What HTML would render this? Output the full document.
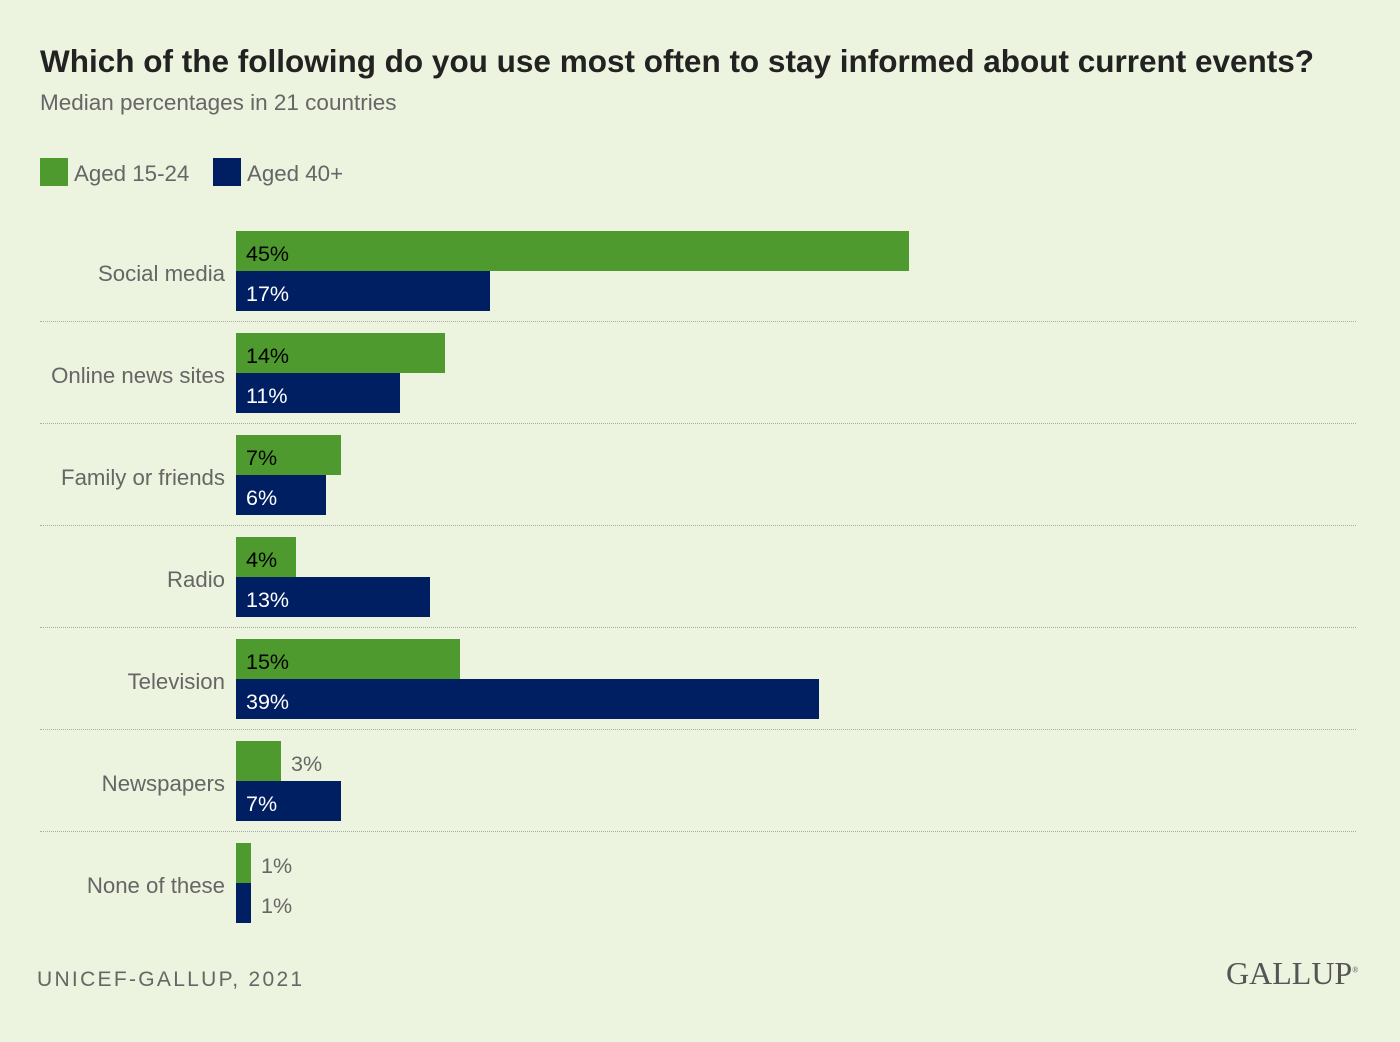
<!DOCTYPE html>
<html><head><meta charset="utf-8"><style>
body{margin:0;}
#c{position:relative;width:1400px;height:1042px;background:#ecf3de;font-family:"Liberation Sans",sans-serif;overflow:hidden}
.a{position:absolute;white-space:nowrap}
.t{left:40px;top:43px;font-size:31.5px;font-weight:bold;color:#222}
.s{left:40px;top:90px;font-size:22.5px;color:#666}
.lab{right:1175px;font-size:22.2px;color:#666;line-height:24px}
.bar{position:absolute;left:236px;height:40px}
.g{background:#4e9a2e}.b{background:#001f63}
.v{font-size:21.5px;line-height:40px;margin-top:3px}
.sep{position:absolute;left:40px;width:1316px;border-top:1.5px dotted #aaa;height:0}
</style></head><body><div id="c">
<div class="a t">Which of the following do you use most often to stay informed about current events?</div>
<div class="a s">Median percentages in 21 countries</div>
<div class="a" style="left:40px;top:158px;width:28px;height:28px;background:#4e9a2e"></div>
<div class="a" style="left:74px;top:161px;font-size:22.3px;color:#666">Aged 15-24</div>
<div class="a" style="left:213px;top:158px;width:28px;height:28px;background:#001f63"></div>
<div class="a" style="left:247px;top:161px;font-size:22.3px;color:#666">Aged 40+</div>
<div id="rows"></div>
<div class="a" style="left:37px;top:968px;font-size:21px;color:#666;letter-spacing:2.3px">UNICEF-GALLUP, 2021</div>
<div class="a" style="left:1226px;top:955px;font-family:'Liberation Serif',serif;font-size:32px;color:#555">GALLUP<sup style="font-size:8px">®</sup></div>
</div>
<script>
var d=[["Social media",45,17],["Online news sites",14,11],["Family or friends",7,6],["Radio",4,13],["Television",15,39],["Newspapers",3,7],["None of these",1,1]];
var h="",k=14.95;
d.forEach(function(r,i){
 var y=231+102*i;
 h+='<div class="a lab" style="top:'+(y+31)+'px">'+r[0]+'</div>';
 [[r[1],'g','#000'],[r[2],'b','#fff']].forEach(function(q,j){
  var w=Math.round(q[0]*k),yy=y+40*j;
  h+='<div class="bar '+q[1]+'" style="top:'+yy+'px;width:'+w+'px"></div>';
  if(w>45) h+='<div class="a v" style="left:246px;top:'+yy+'px;color:'+q[2]+'">'+q[0]+'%</div>';
  else h+='<div class="a v" style="left:'+(236+w+10)+'px;top:'+yy+'px;color:#666">'+q[0]+'%</div>';
 });
 if(i<6) h+='<div class="sep" style="top:'+(y+90)+'px"></div>';
});
document.getElementById("rows").outerHTML=h;
</script>
</body></html>
